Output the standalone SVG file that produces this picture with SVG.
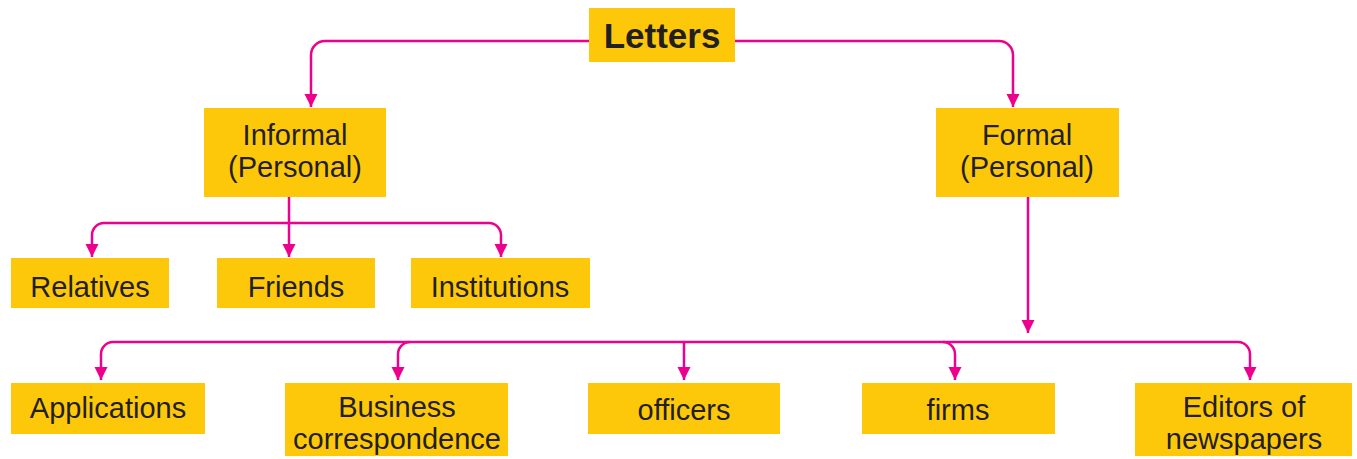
<svg xmlns="http://www.w3.org/2000/svg" width="1357" height="459" viewBox="0 0 1357 459">
<style>
.box{fill:#FEC80A}
.t{font-family:"Liberation Sans",Arial,sans-serif;font-size:29px;fill:#231F20;text-anchor:middle}
.b{font-weight:bold;font-size:35px}
.c{fill:none;stroke:#EC008C;stroke-width:2.5}
</style>
<defs>
<marker id="ah" markerUnits="userSpaceOnUse" markerWidth="14" markerHeight="14" refX="13" refY="6.5" orient="auto">
<path d="M0,0 L13,6.5 L0,13 z" fill="#EC008C"/>
</marker>
</defs>
<rect width="1357" height="459" fill="#fff"/>
<g id="connectors">
<path class="c" marker-end="url(#ah)" d="M589,41 H325 A14,14 0 0 0 311,55 V107"/>
<path class="c" marker-end="url(#ah)" d="M735,41 H999 A14,14 0 0 1 1013,55 V107"/>
<path class="c" marker-end="url(#ah)" d="M289,197 V257"/>
<path class="c" marker-end="url(#ah)" d="M289,223 H104 A12,12 0 0 0 92,235 V257"/>
<path class="c" marker-end="url(#ah)" d="M289,223 H489 A12,12 0 0 1 501,235 V257"/>
<path class="c" marker-end="url(#ah)" d="M1028,197 V333"/>
<path class="c" marker-end="url(#ah)" d="M684,342 H113 A12,12 0 0 0 101,354 V380"/>
<path class="c" marker-end="url(#ah)" d="M684,342 H1238 A12,12 0 0 1 1250,354 V380"/>
<path class="c" marker-end="url(#ah)" d="M410,342 A12,12 0 0 0 398,354 V380"/>
<path class="c" marker-end="url(#ah)" d="M684,342 V380"/>
<path class="c" marker-end="url(#ah)" d="M943,342 A12,12 0 0 1 955,354 V380"/>
</g>
<g id="letters"><rect class="box" x="589" y="8" width="146" height="54"/><text class="t b" x="662" y="48">Letters</text></g>
<g id="informal"><rect class="box" x="204" y="108" width="182" height="89"/><text class="t" x="295" y="145">Informal</text><text class="t" x="295" y="177">(Personal)</text></g>
<g id="formal"><rect class="box" x="936" y="108" width="183" height="89"/><text class="t" x="1027" y="145">Formal</text><text class="t" x="1027" y="177">(Personal)</text></g>
<g id="relatives"><rect class="box" x="11" y="258" width="158" height="50"/><text class="t" x="90" y="297">Relatives</text></g>
<g id="friends"><rect class="box" x="217" y="258" width="158" height="50"/><text class="t" x="296" y="297">Friends</text></g>
<g id="institutions"><rect class="box" x="411" y="258" width="179" height="50"/><text class="t" x="500" y="297">Institutions</text></g>
<g id="applications"><rect class="box" x="11" y="383" width="194" height="51"/><text class="t" x="108" y="418">Applications</text></g>
<g id="business"><rect class="box" x="285" y="383" width="223" height="73"/><text class="t" x="397" y="417">Business</text><text class="t" x="397" y="449">correspondence</text></g>
<g id="officers"><rect class="box" x="588" y="383" width="192" height="51"/><text class="t" x="684" y="420">officers</text></g>
<g id="firms"><rect class="box" x="862" y="383" width="193" height="51"/><text class="t" x="958" y="420">firms</text></g>
<g id="editors"><rect class="box" x="1135" y="383" width="217" height="73"/><text class="t" x="1244" y="417">Editors of</text><text class="t" x="1244" y="449">newspapers</text></g>
</svg>
